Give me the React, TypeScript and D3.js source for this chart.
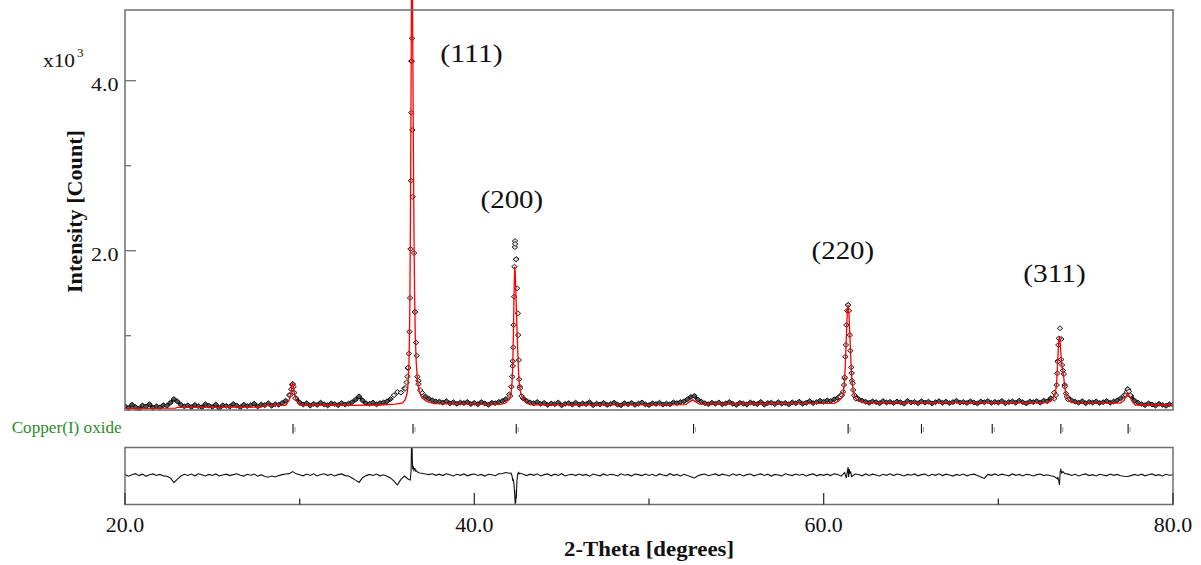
import React from 'react';
import * as d3 from 'd3';

const W = 1201;
const H = 565;
const FONT = "'Liberation Serif', 'Times New Roman', serif";

// 2-theta axis
const xDomain: [number, number] = [20, 80];
const xTicks = [20, 30, 40, 50, 60, 70, 80];
const xMajorTicks = [20, 40, 60, 80];
const xTickLabels = ['20.0', '40.0', '60.0', '80.0'];

// intensity axis (counts)
const yDomain: [number, number] = [126, 4832];
const yTicks = [1000, 2000, 3000, 4000];
const yMajorTicks = [2000, 4000];
const yTickLabels = ['2.0', '4.0'];

// observed pattern: background scan sampled every 0.2 deg from 20.0
const bgStart = 20;
const bgStep = 0.2;
const obsBackground = [
  172, 150, 188, 161, 140, 179, 166, 193, 154, 170,
  158, 183, 176, 212, 255, 226, 188, 168, 181, 160,
  186, 171, 158, 195, 177, 163, 190, 149, 182, 174,
  166, 197, 178, 159, 188, 172, 183, 200, 168, 191,
  182, 205, 176, 194, 188, 210, 235, 302, 430, 262,
  214, 190, 205, 178, 199, 186, 212, 193, 180, 204,
  196, 183, 208, 190, 201, 218, 248, 286, 238, 205,
  199, 214, 192, 207, 215, 228, 255, 300, 338, 330,
  380, 620, 4230, 1280, 470, 330, 285, 258, 240, 226,
  225, 212, 230, 204, 218, 199, 214, 208, 221, 196,
  210, 194, 219, 203, 188, 212, 206, 222, 231, 255,
  310, 700, 1900, 400, 262, 232, 214, 205, 220, 198,
  210, 186, 203, 195, 214, 181, 199, 207, 190, 212,
  188, 204, 196, 217, 183, 201, 192, 209, 186, 198,
  213, 190, 182, 206, 194, 210, 187, 201, 215, 192,
  184, 205, 197, 211, 189, 202, 193, 216, 207, 220,
  228, 252, 280, 292, 248, 224, 206, 195, 212, 200,
  214, 193, 205, 220, 198, 186, 211, 202, 190, 215,
  204, 196, 221, 189, 208, 213, 195, 218, 201, 209,
  192, 216, 205, 224, 199, 211, 230, 207, 219, 236,
  222, 240, 231, 252, 268, 305, 500, 1361, 560, 290,
  255, 236, 224, 210, 228, 219, 205, 231, 214, 222,
  208, 226, 217, 200, 232, 215, 221, 206, 229, 212,
  224, 203, 218, 230, 211, 225, 207, 219, 234, 213,
  221, 209, 228, 215, 203, 226, 217, 231, 210, 222,
  214, 232, 206, 220, 227, 211, 235, 218, 204, 226,
  219, 231, 212, 236, 228, 265, 330, 700, 960, 420,
  272, 238, 224, 212, 230, 205, 221, 214, 227, 209,
  218, 232, 211, 226, 240, 262, 300, 370, 290, 236,
  212, 196, 183, 204, 191, 178, 199, 186, 175, 193,
  188,
];

// observed points read on the reflections [2theta, counts]
const obs110: [number, number][] = [
  [29.45, 300], [29.52, 370], [29.57, 425], [29.61, 430], [29.65, 400], [29.69, 330], [29.75, 265],
];
const obs111: [number, number][] = [
  [36.05, 380], [36.12, 450], [36.17, 520], [36.21, 624], [36.25, 790], [36.29, 1047],
  [36.32, 1444], [36.35, 2020], [36.37, 2824], [36.39, 3624], [36.41, 4232], [36.43, 4499],
  [36.45, 3420], [36.47, 2635], [36.55, 1973], [36.60, 1279], [36.66, 920], [36.70, 765],
  [36.74, 518], [36.80, 430], [36.90, 360],
];
const obs200: [number, number][] = [
  [42.05, 290], [42.12, 400], [42.17, 518], [42.20, 644], [42.23, 863], [42.25, 1126],
  [42.28, 1459], [42.30, 1812], [42.32, 2043], [42.33, 2114], [42.34, 2080], [42.39, 1899],
  [42.45, 1558], [42.49, 1264], [42.51, 1008], [42.55, 714], [42.57, 487], [42.62, 380],
  [42.70, 290],
];
const obs220: [number, number][] = [
  [60.95, 280], [61.05, 300], [61.12, 341], [61.16, 420], [61.20, 511], [61.24, 753],
  [61.27, 891], [61.30, 1126], [61.35, 1294], [61.40, 1361], [61.45, 1294], [61.50, 1008],
  [61.53, 824], [61.58, 628], [61.62, 470], [61.66, 440], [61.69, 361], [61.75, 300],
  [61.85, 260],
];
const obs311: [number, number][] = [
  [73.20, 260], [73.30, 302], [73.34, 420], [73.38, 557], [73.41, 694], [73.44, 891],
  [73.47, 969], [73.53, 1087], [73.60, 720], [73.65, 655], [73.70, 590], [73.75, 549],
  [73.81, 400], [73.87, 320], [73.92, 282], [74.00, 250],
];
const obs77: [number, number][] = [
  [77.30, 300], [77.36, 340], [77.42, 370], [77.48, 345], [77.55, 300],
];

// calculated (fitted) profile [2theta, counts]
const calcProfile: [number, number][] = [
  [20.0, 146], [22.9, 148], [23.0, 158], [27.8, 160], [27.9, 177], [29.2, 182],
  [29.4, 240], [29.5, 320], [29.58, 440], [29.63, 430], [29.7, 320], [29.8, 240],
  [30.0, 185], [33.0, 180], [34.5, 185], [35.5, 195], [35.9, 210], [36.05, 250],
  [36.15, 320], [36.20, 420], [36.25, 620], [36.28, 900], [36.31, 1400], [36.34, 2300],
  [36.37, 3600], [36.40, 4900], [36.43, 5600], [36.46, 5000], [36.49, 3900], [36.52, 2900],
  [36.55, 2100], [36.58, 1500], [36.62, 1000], [36.67, 700], [36.74, 480], [36.85, 340],
  [37.0, 270], [37.3, 225], [37.7, 200], [41.5, 193], [41.8, 210], [42.0, 250],
  [42.10, 320], [42.16, 450], [42.20, 650], [42.24, 1050], [42.28, 1550], [42.31, 1810],
  [42.34, 1750], [42.38, 1500], [42.43, 1150], [42.48, 850], [42.53, 580], [42.58, 420],
  [42.66, 320], [42.8, 250], [43.0, 205], [43.3, 186], [52.1, 190], [52.35, 225],
  [52.5, 245], [52.65, 225], [52.9, 195], [60.6, 205], [60.8, 225], [61.0, 260],
  [61.1, 300], [61.18, 420], [61.24, 650], [61.30, 1000], [61.36, 1300], [61.40, 1360],
  [61.45, 1250], [61.50, 1000], [61.56, 700], [61.62, 480], [61.70, 340], [61.80, 270],
  [62.0, 230], [62.3, 212], [72.8, 212], [73.0, 230], [73.15, 260], [73.25, 310],
  [73.33, 420], [73.40, 700], [73.46, 950], [73.51, 985], [73.56, 850], [73.62, 680],
  [73.68, 600], [73.74, 520], [73.80, 400], [73.88, 300], [74.0, 245], [74.3, 210],
  [77.0, 208], [77.2, 240], [77.32, 290], [77.42, 322], [77.55, 270], [77.7, 215],
  [77.85, 185], [80.0, 185],
];

// difference curve (as plotted), every 0.2 deg from 20.0
const diffBase = [
  5, -12, 3, 14, -6, 9, -13, 2, 11, -5,
  6, -9, -12, -30, -78, -42, -10, 8, -4, 10,
  -8, 12, 2, -10, 6, -5, 11, -9, 1, 9,
  -6, 4, 13, -3, -11, 7, -2, 10, -12, 3,
  -15, -22, -10, -20, -6, 4, 10, 14, 35, 12,
  2, -8, 10, -5, 12, -9, 6, 13, -3, 7,
  -10, 4, 11, -6, -10, -30, -52, -75, -28, -6,
  6, -5, 10, -8, 3, -12, -30, -62, -100, -45,
  -10, -40, 280, 65, 25, 18, 10, 4, 12, -3,
  9, -6, 12, 3, -10, 7, -3, 11, -8, 4,
  10, -5, 6, -11, 8, 3, -7, 12, 15, 25,
  18, -60, -240, 20, 8, -6, 9, -3, 12, -9,
  4, 11, -8, 9, -5, 13, -10, 3, 7, -6,
  10, -3, 6, -12, 9, 1, -8, 11, -5, 7,
  3, -9, 12, -2, 6, -11, 9, 4, -6, 10,
  -5, 7, -10, 11, 1, -8, 13, -3, 6, -9,
  8, -6, -18, -30, -8, 4, 10, -7, 3, 11,
  -6, 9, 1, -10, 12, -3, 7, -9, 4, 10,
  -8, 3, 11, -5, 9, -11, 6, 1, -9, 12,
  3, -6, 10, -2, 7, -10, 4, 11, -8, 6,
  -3, 9, -6, 12, 5, -12, 25, 70, -15, 10,
  6, -8, 11, -5, 9, 1, -10, 7, -3, 12,
  -6, 10, 3, -9, 6, -2, 11, -8, 4, 9,
  -10, 7, -3, 12, -6, 9, 1, -11, 6, -5,
  10, -8, 3, 9, -5, -20, -35, 6, -3, 11,
  -5, 9, 1, -8, 11, -3, 6, -10, 7, 3,
  -9, 4, 10, -6, 3, -8, -15, -40, 45, 15,
  9, -5, 7, -9, 3, 11, -6, 4, -10, 7,
  1, -8, 10, -3, 6, -8, -12, -15, -6, 6,
  -5, 9, -8, 3, 11, -6, 4, -9, 7, -3,
  3,
];
const diffSpikes: [number, number][] = [
  [35.5, -85], [35.7, -70], [36.25, -45], [36.33, -50], [36.38, 40], [36.41, 300],
  [36.44, 300], [36.45, 150], [36.47, 60], [36.50, 90], [36.54, 50], [36.58, 65],
  [36.63, 40], [36.68, 45], [36.75, 30], [36.85, 20],
  [42.10, 20], [42.16, -10], [42.22, -40], [42.27, -90], [42.31, -200], [42.34, -290],
  [42.37, -280], [42.40, -150], [42.44, -60], [42.48, 10], [42.52, 25], [42.56, 10],
  [61.30, -30], [61.36, 40], [61.40, 80], [61.43, -20], [61.46, 60], [61.50, 20], [61.55, 30],
  [73.40, -20], [73.46, -60], [73.50, -100], [73.54, 30], [73.58, 55], [73.63, 20], [73.70, 35],
];
const diffDomain: [number, number] = [-300, 280];

// Cu2O reflection positions
const phaseName = 'Copper(I) oxide';
const phaseReflections = [29.62, 36.49, 42.40, 52.55, 61.40, 65.60, 69.65, 73.58, 77.43];

// Miller index labels and their anchors [2theta, counts]
const peakLabels = ['(111)', '(200)', '(220)', '(311)'];
const peakLabelAt: [number, number][] = [[39.84, 4224], [42.15, 2499], [61.10, 1899], [73.22, 1635]];

const App: React.FC = () => {
  const left = 125;
  const right = 1173;
  const mainTop = 10;
  const mainBottom = 410;
  const diffTop = 447.5;
  const diffBottom = 504.5;

  const x = d3.scaleLinear().domain(xDomain).range([left, right]);
  const y = d3.scaleLinear().domain(yDomain).range([mainBottom, mainTop]);
  const yd = d3.scaleLinear().domain(diffDomain).range([diffBottom, diffTop]);

  const background: [number, number][] =
    obsBackground.map((c, i) => [bgStart + i * bgStep, c] as [number, number]);
  const reflections: [number, number][] = [
    ...obs110, ...obs111, ...obs200, ...obs220, ...obs311, ...obs77,
  ];

  const line = d3.line<[number, number]>()
    .x((d) => x(d[0]))
    .y((d) => y(d[1]));

  // dense background scan reads as a solid band; break it on the reflections
  const bandLine = d3.line<[number, number]>()
    .defined((d) => d[1] < 300)
    .x((d) => x(d[0]))
    .y((d) => y(d[1]));

  const diffPoints: [number, number][] = [
    ...diffBase.map((v, i) => [bgStart + i * bgStep, v] as [number, number]),
    ...diffSpikes,
  ].sort((a, b) => a[0] - b[0]);

  const diffLine = d3.line<[number, number]>()
    .x((d) => x(d[0]))
    .y((d) => yd(Math.max(diffDomain[0], Math.min(diffDomain[1], d[1]))));

  const boxColor = '#6e6e6e';
  const diamond = 'M0,-2.4L2.8,0L0,2.4L-2.8,0Z';

  return (
    <svg
      width={W}
      height={H}
      viewBox={`0 0 ${W} ${H}`}
      style={{ position: 'absolute', left: 0, top: 0, background: '#fff' }}
    >
      <defs>
        <clipPath id="mainClip">
          <rect x={left} y={0} width={right - left} height={mainBottom + 1} />
        </clipPath>
        <clipPath id="diffClip">
          <rect x={left} y={diffTop} width={right - left} height={diffBottom - diffTop} />
        </clipPath>
      </defs>

      {/* observed points */}
      <g clipPath="url(#mainClip)">
        <path d={bandLine(background) ?? ''} fill="none" stroke="#111" strokeWidth={2.8}
          strokeLinejoin="round" />
        {background.map((d, i) => (
          <path key={`b${i}`} d={diamond} transform={`translate(${x(d[0])},${y(d[1])})`}
            fill={d[1] < 300 ? '#555' : '#e4e4e4'} stroke="#111" strokeWidth={1} />
        ))}
        {reflections.map((d, i) => (
          <path key={`r${i}`} d={diamond} transform={`translate(${x(d[0])},${y(d[1])})`}
            fill="#e4e4e4" stroke="#111" strokeWidth={0.9} />
        ))}
        <path d={line(calcProfile) ?? ''} fill="none" stroke="#ff0000" strokeWidth={1.3} />
      </g>

      {/* main frame */}
      <rect x={left} y={mainTop} width={right - left} height={mainBottom - mainTop}
        fill="none" stroke={boxColor} strokeWidth={1.5} />
      {yTicks.map((t) => (
        <line key={t} x1={left} x2={left + (yMajorTicks.includes(t) ? 11 : 6)}
          y1={y(t)} y2={y(t)} stroke={boxColor} strokeWidth={1.3} />
      ))}
      {yMajorTicks.map((t, i) => (
        <text key={t} x={118.5} y={y(t) + 10} textAnchor="end" fontFamily={FONT}
          fontSize={18} textLength={27.6} lengthAdjust="spacingAndGlyphs" fill="#111">
          {yTickLabels[i]}
        </text>
      ))}
      <text x={43} y={66.7} fontFamily={FONT} fontSize={18} textLength={32}
        lengthAdjust="spacingAndGlyphs" fill="#111">x10</text>
      <text x={77} y={57} fontFamily={FONT} fontSize={13} fill="#111">3</text>
      <text transform="translate(81.5,211.5) rotate(-90)" textAnchor="middle" fontFamily={FONT}
        fontSize={21} fontWeight="bold" textLength={163} lengthAdjust="spacingAndGlyphs" fill="#111">
        Intensity [Count]
      </text>

      {/* peak labels */}
      {peakLabels.map((s, i) => (
        <text key={s} x={x(peakLabelAt[i][0])} y={y(peakLabelAt[i][1])} textAnchor="middle"
          fontFamily={FONT} fontSize={25} textLength={62.5} lengthAdjust="spacingAndGlyphs" fill="#111">
          {s}
        </text>
      ))}

      {/* phase reflection markers */}
      <text x={11.7} y={433.3} fontFamily={FONT} fontSize={16} textLength={110}
        lengthAdjust="spacingAndGlyphs" fill="#2e8b2e">{phaseName}</text>
      {phaseReflections.map((p) => (
        <g key={p}>
          <line x1={x(p)} x2={x(p)} y1={424} y2={433.5} stroke="#111" strokeWidth={1.1} />
          <line x1={x(p) + 2} x2={x(p) + 2} y1={427} y2={432} stroke="#999" strokeWidth={0.9} />
        </g>
      ))}

      {/* difference plot */}
      <g clipPath="url(#diffClip)">
        <path d={diffLine(diffPoints) ?? ''} fill="none" stroke="#111" strokeWidth={1.1} />
      </g>
      <rect x={left} y={diffTop} width={right - left} height={diffBottom - diffTop}
        fill="none" stroke={boxColor} strokeWidth={1.5} />
      {xTicks.map((t) => (
        <line key={t} x1={x(t)} x2={x(t)} y1={diffBottom}
          y2={diffBottom - (xMajorTicks.includes(t) ? 11.5 : 6)} stroke="#333" strokeWidth={1.3} />
      ))}
      {xMajorTicks.map((t, i) => (
        <text key={t} x={x(t)} y={531.7} textAnchor="middle" fontFamily={FONT} fontSize={20}
          textLength={38.3} lengthAdjust="spacingAndGlyphs" fill="#111">
          {xTickLabels[i]}
        </text>
      ))}
      <text x={(left + right) / 2} y={555.7} textAnchor="middle" fontFamily={FONT} fontSize={21}
        fontWeight="bold" textLength={170} lengthAdjust="spacingAndGlyphs" fill="#111">
        2-Theta [degrees]
      </text>
    </svg>
  );
};

export default App;
